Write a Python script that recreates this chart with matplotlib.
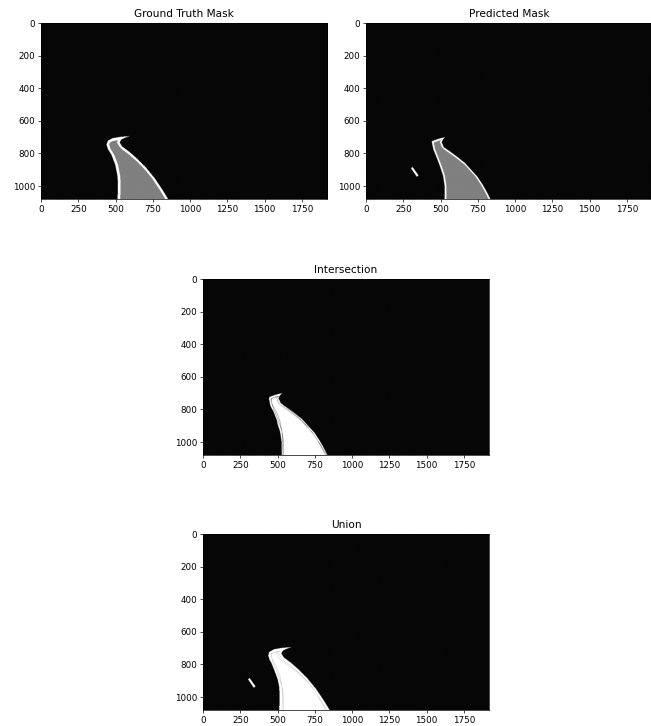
import numpy as np
import matplotlib
matplotlib.use("Agg")
import matplotlib.pyplot as plt
from matplotlib.path import Path

IMG_W, IMG_H = 1920, 1080
STEP = 2          # raster step in image pixels
BG = 6            # background grey level
FILL = 128        # road fill grey level
EDGE = 255        # border level

# ground truth road outline (image pixel coords), left side bottom->tip, right side tip->bottom
gt_left = [(512, 1080), (515, 1000), (512, 940), (497, 870), (472, 810), (447, 772),
           (438, 745), (448, 722), (478, 707), (530, 699), (592, 694)]
gt_right = [(562, 704), (536, 716), (526, 733), (543, 758), (590, 790), (640, 830),
            (700, 885), (760, 952), (810, 1020), (850, 1080)]

# predicted road outline
pred_left = [(527, 1080), (528, 1000), (517, 935), (497, 880), (472, 820), (452, 775),
             (446, 748), (441, 726), (490, 710), (532, 700)]
pred_right = [(518, 712), (508, 732), (522, 762), (560, 786), (604, 815), (660, 856),
              (704, 898), (750, 946), (782, 990), (810, 1035), (835, 1080)]
# small false positive blob
pred_blob = [(302, 891), (313, 884), (353, 936), (341, 943)]

X_TICKS = [0, 250, 500, 750, 1000, 1250, 1500, 1750]
Y_TICKS = [0, 200, 400, 600, 800, 1000]

xs = np.arange(0, IMG_W, STEP) + STEP / 2
ys = np.arange(0, IMG_H, STEP) + STEP / 2
gx, gy = np.meshgrid(xs, ys)
grid_pts = np.column_stack([gx.ravel(), gy.ravel()])


def rasterize(poly):
    return Path(poly).contains_points(grid_pts).reshape(gx.shape)


def erode(mask, n):
    m = mask.copy()
    for _ in range(n):
        p = np.pad(m, 1, mode='edge')
        m = m & p[:-2, 1:-1] & p[2:, 1:-1] & p[1:-1, :-2] & p[1:-1, 2:]
    return m


gt_in = rasterize(gt_left + gt_right)
gt_core = erode(gt_in, 9)
gt_img = np.where(gt_core, FILL, np.where(gt_in, EDGE, BG))

pred_in = rasterize(pred_left + pred_right) | rasterize(pred_blob)
pred_core = erode(pred_in, 6)
pred_img = np.where(pred_core, FILL, np.where(pred_in, EDGE, BG))

# thin rings where the masks' borders meet their fill
gt_ring = gt_core & ~erode(gt_core, 1)
pred_ring = pred_core & ~erode(pred_core, 1)

inter = gt_in & pred_in
inter_img = np.where(inter, EDGE, BG)
inter_img[inter & (gt_ring | pred_ring)] = 30

union = gt_in | pred_in
union_img = np.where(union, EDGE, BG)
union_img[union & (gt_ring | pred_ring)] = 160

plt.rcParams['font.size'] = 6.3
plt.rcParams['xtick.major.size'] = 2.1
plt.rcParams['ytick.major.size'] = 2.1
plt.rcParams['xtick.major.pad'] = 2.1
plt.rcParams['ytick.major.pad'] = 2.1
plt.rcParams['axes.linewidth'] = 0.5
plt.rcParams['xtick.major.width'] = 0.5
plt.rcParams['ytick.major.width'] = 0.5

fig = plt.figure(figsize=(6.51, 7.26), dpi=100)
W, H = 651, 726


def add_panel(left_px, top_px, img, title):
    ax = fig.add_axes([left_px / W, 1 - (top_px + 176) / H, 286 / W, 176 / H])
    ax.imshow(img, cmap='gray', vmin=0, vmax=255, aspect='auto',
              extent=(-0.5, IMG_W - 0.5, IMG_H - 0.5, -0.5))
    ax.set_xticks(X_TICKS)
    ax.set_yticks(Y_TICKS)
    ax.set_title(title, pad=4.3)
    return ax


add_panel(41, 23, gt_img, "Ground Truth Mask")
add_panel(366, 23, pred_img, "Predicted Mask")
add_panel(203, 279, inter_img, "Intersection")
add_panel(203, 534, union_img, "Union")

fig.savefig("out.png", dpi=100)
